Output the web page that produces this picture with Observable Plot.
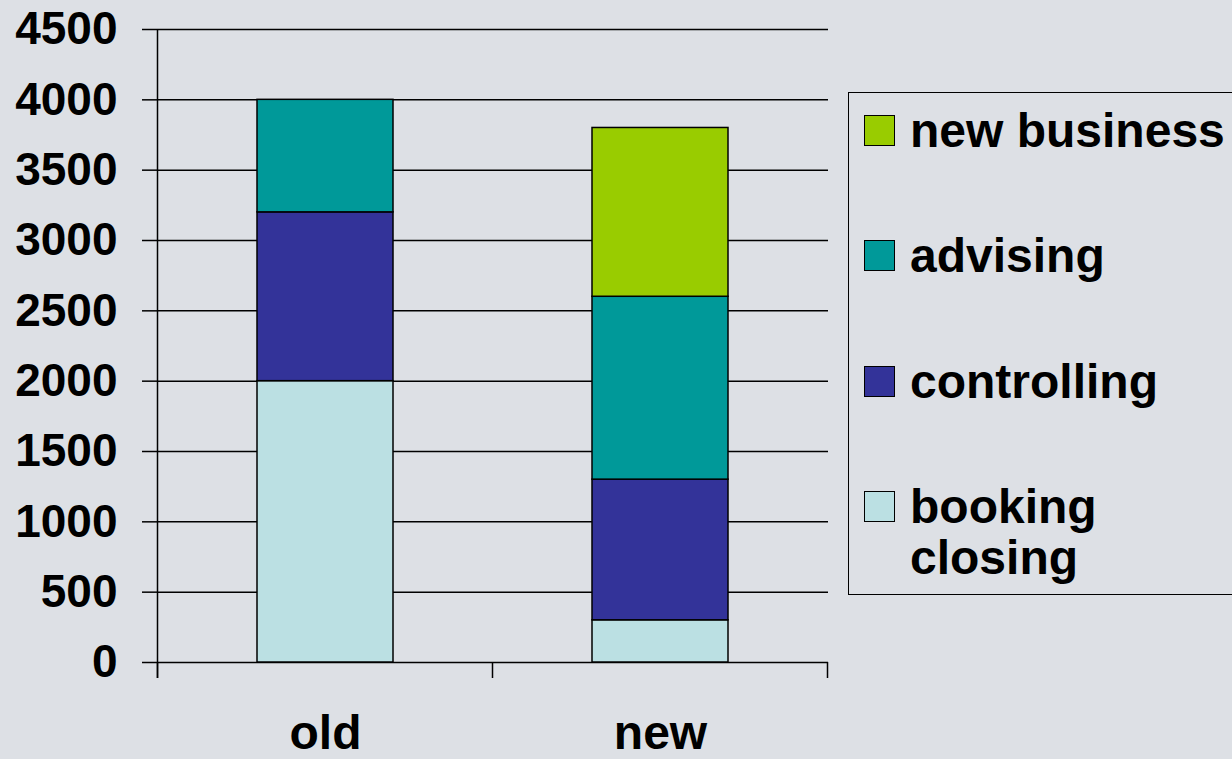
<!DOCTYPE html>
<html>
<head>
<meta charset="utf-8">
<script src="https://cdn.jsdelivr.net/npm/d3@7"></script>
<script src="https://cdn.jsdelivr.net/npm/@observablehq/plot@0.6"></script>
<style>
  html, body { margin: 0; padding: 0; background: #dde0e5; overflow: hidden; }
  #wrap { position: relative; width: 1232px; height: 759px; overflow: hidden; background: #dde0e5;
          font-family: Arial, "Liberation Sans", sans-serif; font-weight: bold; color: #000; }
  #legend { position: absolute; left: 848px; top: 92px; width: 420px; height: 503px;
            border: 1.5px solid #000; box-sizing: border-box; }
  .item { position: absolute; left: 15px; display: flex; align-items: flex-start; }
  .sw { width: 29px; height: 29px; border: 1px solid #000; margin-top: 10px; flex: none; }
  .lab { margin-left: 15px; width: 330px; font-size: 48px; line-height: 51px; }
</style>
</head>
<body>
<div id="wrap"></div>
<script>
const categories = ["old", "new"];
const series = ["booking closing", "controlling", "advising", "new business"];
const oldValues = [2000, 1200, 800, 0];
const newValues = [300, 1000, 1300, 1200];
const colors = ["#bbe0e3", "#333399", "#009999", "#99cc00"];
const yTicks = [0, 500, 1000, 1500, 2000, 2500, 3000, 3500, 4000, 4500];

const valuesByCategory = {old: oldValues, new: newValues};
const table = [];
for (const c of categories) {
  series.forEach((s, i) => {
    const v = valuesByCategory[c][i];
    if (v > 0) table.push({category: c, series: s, value: v});
  });
}

function bandEdges(index, scales) {
  const x = scales.x, y = scales.y;
  const bw = x.bandwidth();
  const step = x.step ? x.step() : bw / (1 - 0.595);
  const edges = categories.map(c => x(c) + bw / 2 - step / 2);
  edges.push(x(categories[categories.length - 1]) + bw / 2 + step / 2);
  const y0 = y(0), yTop = y(yTicks[yTicks.length - 1]);
  const g = d3.create("svg:g").attr("stroke", "black").attr("stroke-width", 1.5);
  g.selectAll("line.t").data(edges).join("line").attr("class", "t")
    .attr("x1", d => d).attr("x2", d => d).attr("y1", y0).attr("y2", y0 + 16);
  g.append("line").attr("x1", edges[0]).attr("x2", edges[0]).attr("y1", yTop).attr("y2", y0 + 16);
  return g.node();
}

const chart = Plot.plot({
  width: 1232,
  height: 759,
  marginLeft: 157,
  marginRight: 404,
  marginTop: 29,
  marginBottom: 97,
  style: {background: "transparent", fontFamily: 'Arial, "Liberation Sans", sans-serif', fontWeight: "bold", fontSize: "46px", color: "#000"},
  x: {domain: categories, paddingInner: 0.595, paddingOuter: 0.2975},
  y: {domain: [0, 4500]},
  color: {domain: series, range: colors},
  marks: [
    Plot.gridY(yTicks, {stroke: "black", strokeOpacity: 1, strokeWidth: 1.5}),
    Plot.barY(table, Plot.stackY({x: "category", y: "value", fill: "series", order: series, stroke: "black", strokeWidth: 1.5})),
    Plot.axisY(yTicks, {tickSize: 15, tickPadding: 25, tickFormat: d => String(d), strokeWidth: 1.5, fontSize: 46, fontWeight: "bold", label: null}),
    Plot.axisX({tickSize: 0, tickPadding: 52, fontSize: 48, fontWeight: "bold", label: null}),
    bandEdges
  ]
});

const wrap = document.getElementById("wrap");
wrap.appendChild(chart);

const legend = document.createElement("div");
legend.id = "legend";
const legendOrder = series.slice().reverse();
legendOrder.forEach((s, i) => {
  const item = document.createElement("div");
  item.className = "item";
  item.style.top = (12 + i * 125.3) + "px";
  const sw = document.createElement("div");
  sw.className = "sw";
  sw.style.background = colors[series.indexOf(s)];
  const lab = document.createElement("div");
  lab.className = "lab";
  lab.textContent = s;
  item.appendChild(sw);
  item.appendChild(lab);
  legend.appendChild(item);
});
wrap.appendChild(legend);
</script>
</body>
</html>
